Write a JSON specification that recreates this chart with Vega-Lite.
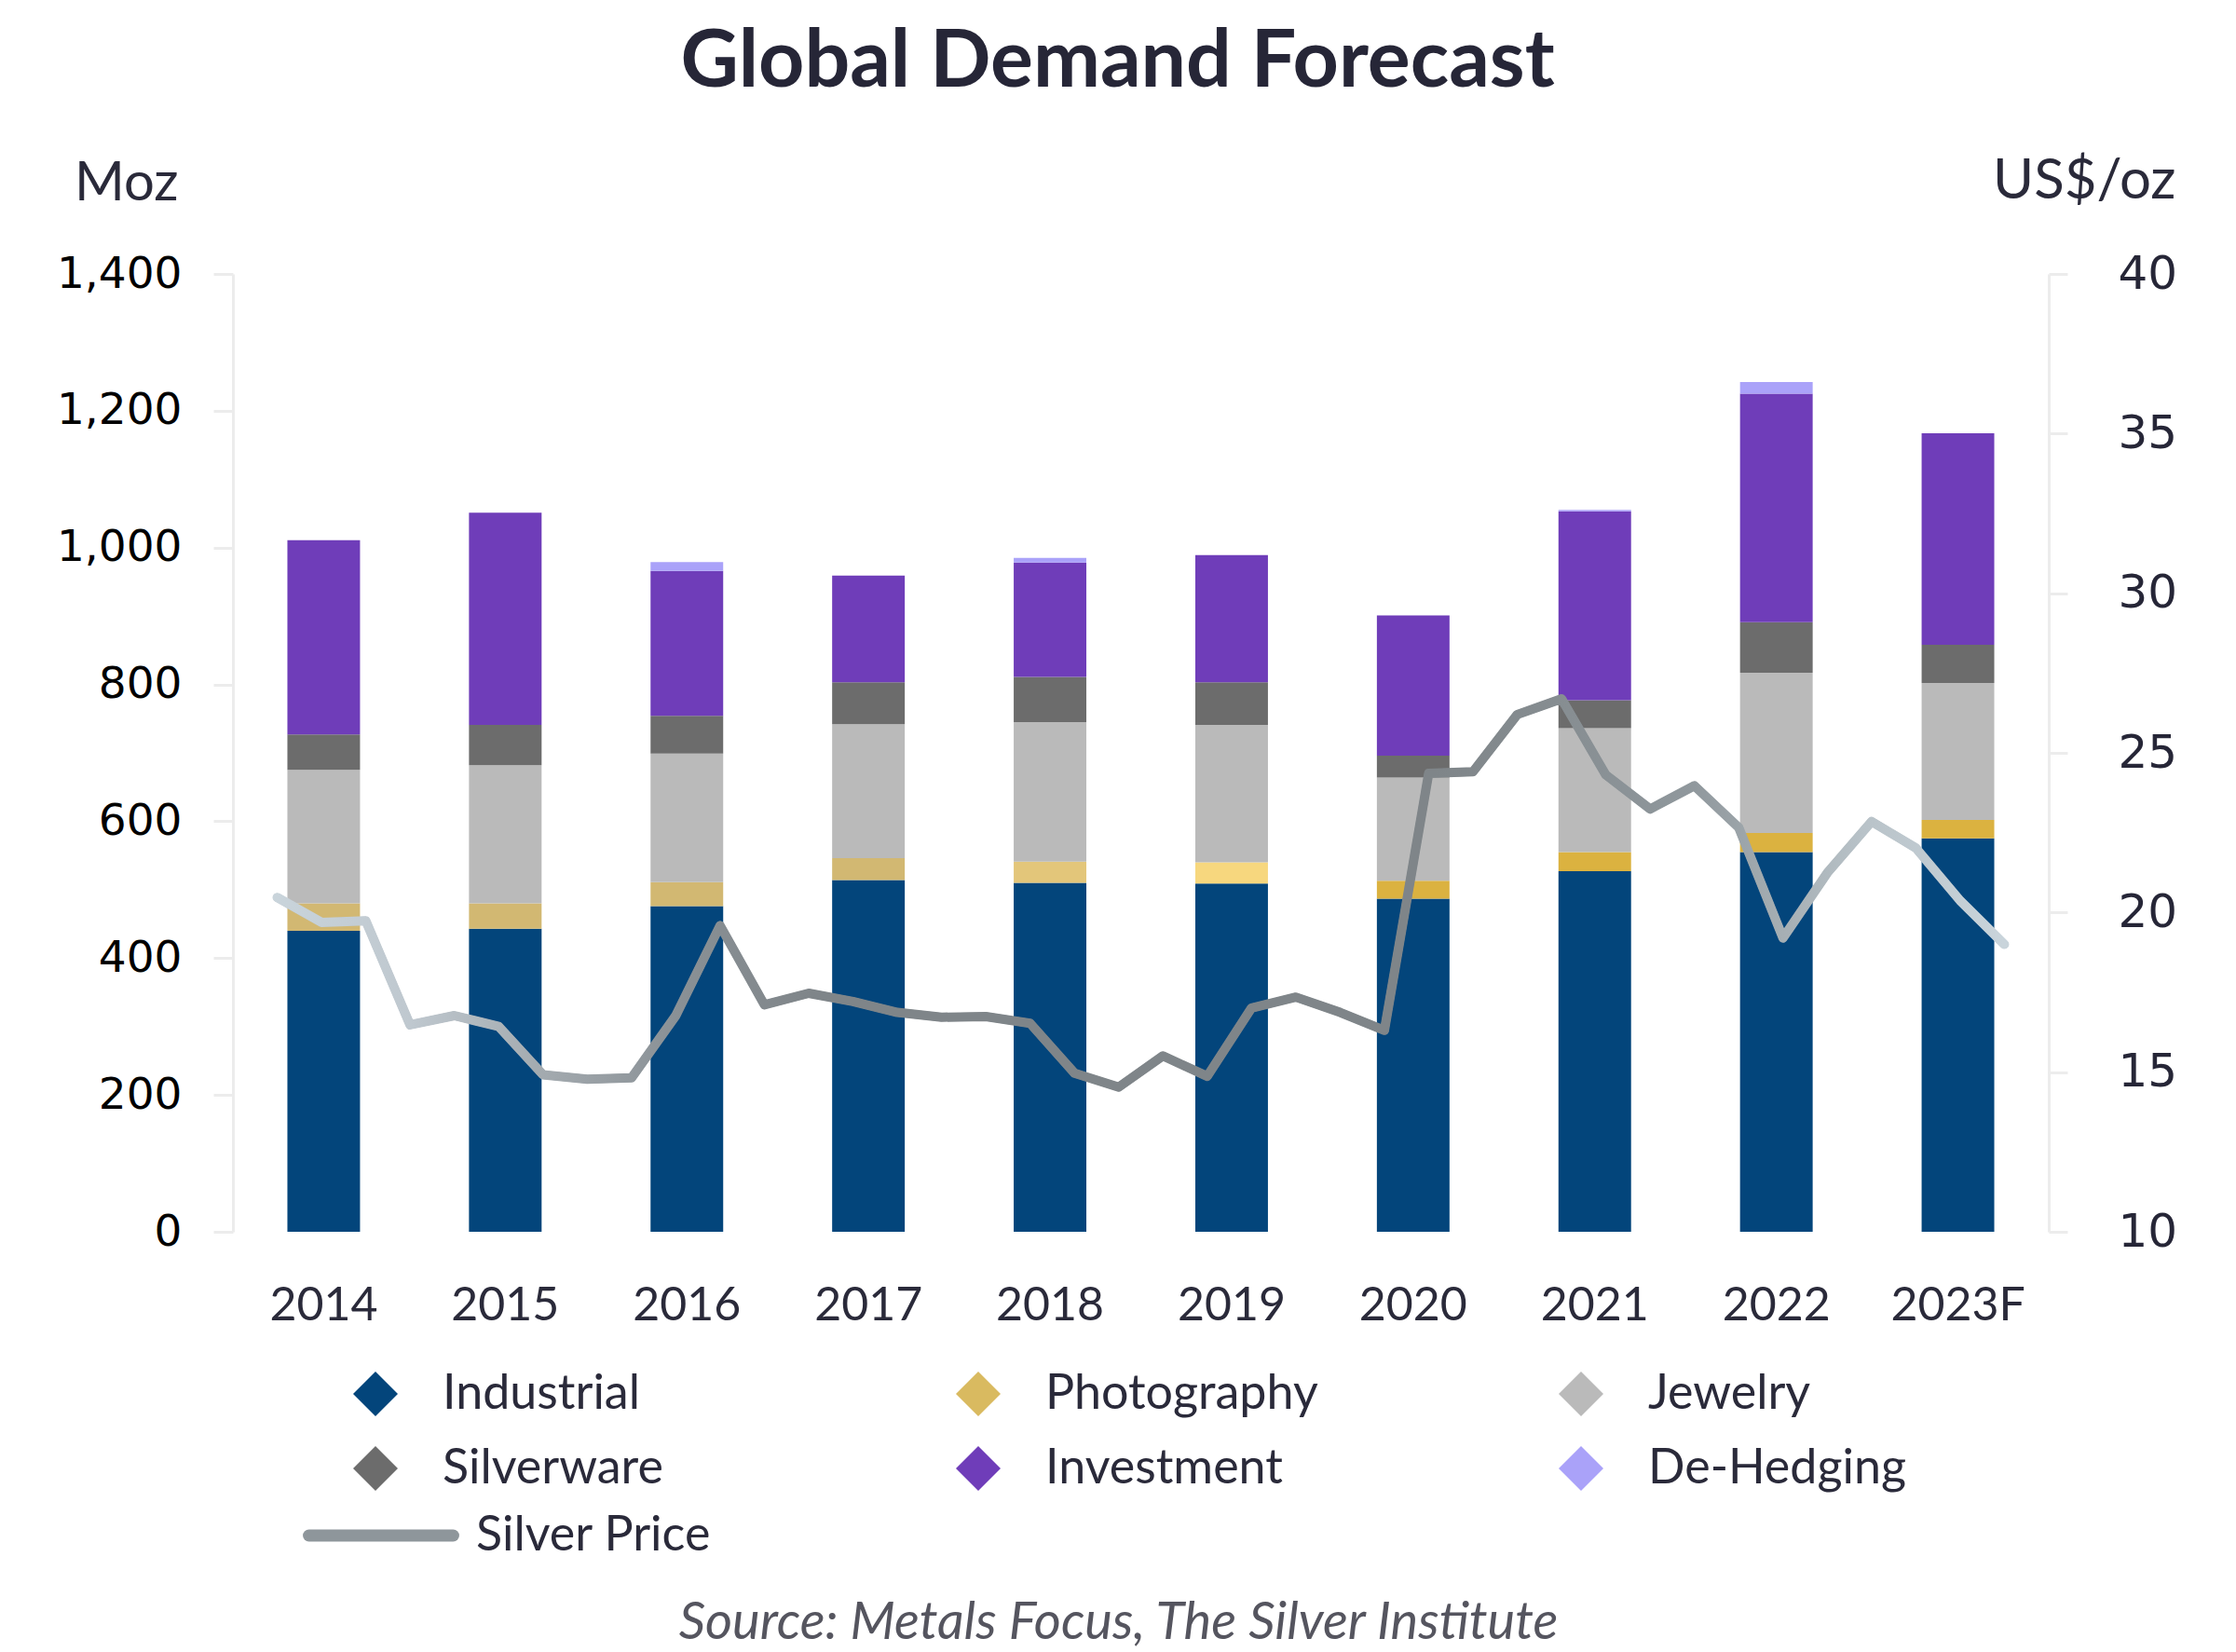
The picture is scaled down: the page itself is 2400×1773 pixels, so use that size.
{
  "$schema": "https://vega.github.io/schema/vega-lite/v6.json",
  "width": 1949,
  "height": 1028,
  "autosize": {"type": "none"},
  "padding": {"left": 250, "top": 294, "right": 201, "bottom": 451},
  "background": "white",
  "config": {"view": {"stroke": null}, "font": "Lato"},
  "title": {
    "text": "Global Demand Forecast",
    "anchor": "middle",
    "font": "Lato",
    "fontWeight": "bold",
    "fontSize": 86,
    "color": "#262637",
    "dx": -25,
    "offset": 53
  },
  "datasets": {
    "demand": [
      {"year": "2014", "category": "Industrial", "value": 440},
      {"year": "2014", "category": "Photography", "value": 40},
      {"year": "2014", "category": "Jewelry", "value": 195},
      {"year": "2014", "category": "Silverware", "value": 52},
      {"year": "2014", "category": "Investment", "value": 284},
      {"year": "2015", "category": "Industrial", "value": 443},
      {"year": "2015", "category": "Photography", "value": 37},
      {"year": "2015", "category": "Jewelry", "value": 202},
      {"year": "2015", "category": "Silverware", "value": 59},
      {"year": "2015", "category": "Investment", "value": 310},
      {"year": "2016", "category": "Industrial", "value": 476},
      {"year": "2016", "category": "Photography", "value": 35},
      {"year": "2016", "category": "Jewelry", "value": 188},
      {"year": "2016", "category": "Silverware", "value": 55},
      {"year": "2016", "category": "Investment", "value": 212},
      {"year": "2016", "category": "De-Hedging", "value": 13},
      {"year": "2017", "category": "Industrial", "value": 514},
      {"year": "2017", "category": "Photography", "value": 32},
      {"year": "2017", "category": "Jewelry", "value": 196},
      {"year": "2017", "category": "Silverware", "value": 61},
      {"year": "2017", "category": "Investment", "value": 156},
      {"year": "2018", "category": "Industrial", "value": 510},
      {"year": "2018", "category": "Photography", "value": 31},
      {"year": "2018", "category": "Jewelry", "value": 204},
      {"year": "2018", "category": "Silverware", "value": 66},
      {"year": "2018", "category": "Investment", "value": 167},
      {"year": "2018", "category": "De-Hedging", "value": 7},
      {"year": "2019", "category": "Industrial", "value": 509},
      {"year": "2019", "category": "Photography", "value": 31},
      {"year": "2019", "category": "Jewelry", "value": 201},
      {"year": "2019", "category": "Silverware", "value": 62},
      {"year": "2019", "category": "Investment", "value": 186},
      {"year": "2020", "category": "Industrial", "value": 487},
      {"year": "2020", "category": "Photography", "value": 26},
      {"year": "2020", "category": "Jewelry", "value": 151},
      {"year": "2020", "category": "Silverware", "value": 32},
      {"year": "2020", "category": "Investment", "value": 205},
      {"year": "2021", "category": "Industrial", "value": 527},
      {"year": "2021", "category": "Photography", "value": 28},
      {"year": "2021", "category": "Jewelry", "value": 181},
      {"year": "2021", "category": "Silverware", "value": 41},
      {"year": "2021", "category": "Investment", "value": 276},
      {"year": "2021", "category": "De-Hedging", "value": 2},
      {"year": "2022", "category": "Industrial", "value": 555},
      {"year": "2022", "category": "Photography", "value": 28},
      {"year": "2022", "category": "Jewelry", "value": 234},
      {"year": "2022", "category": "Silverware", "value": 74},
      {"year": "2022", "category": "Investment", "value": 334},
      {"year": "2022", "category": "De-Hedging", "value": 17},
      {"year": "2023F", "category": "Industrial", "value": 575},
      {"year": "2023F", "category": "Photography", "value": 27},
      {"year": "2023F", "category": "Jewelry", "value": 200},
      {"year": "2023F", "category": "Silverware", "value": 56},
      {"year": "2023F", "category": "Investment", "value": 309}
    ],
    "price": [
      {"period": "2014 Q1", "price": 20.47},
      {"period": "2014 Q2", "price": 19.69},
      {"period": "2014 Q3", "price": 19.74},
      {"period": "2014 Q4", "price": 16.48},
      {"period": "2015 Q1", "price": 16.77},
      {"period": "2015 Q2", "price": 16.43},
      {"period": "2015 Q3", "price": 14.92},
      {"period": "2015 Q4", "price": 14.78},
      {"period": "2016 Q1", "price": 14.82},
      {"period": "2016 Q2", "price": 16.77},
      {"period": "2016 Q3", "price": 19.59},
      {"period": "2016 Q4", "price": 17.11},
      {"period": "2017 Q1", "price": 17.47},
      {"period": "2017 Q2", "price": 17.21},
      {"period": "2017 Q3", "price": 16.87},
      {"period": "2017 Q4", "price": 16.72},
      {"period": "2018 Q1", "price": 16.74},
      {"period": "2018 Q2", "price": 16.53},
      {"period": "2018 Q3", "price": 14.97},
      {"period": "2018 Q4", "price": 14.53},
      {"period": "2019 Q1", "price": 15.51},
      {"period": "2019 Q2", "price": 14.87},
      {"period": "2019 Q3", "price": 17.01},
      {"period": "2019 Q4", "price": 17.35},
      {"period": "2020 Q1", "price": 16.87},
      {"period": "2020 Q2", "price": 16.31},
      {"period": "2020 Q3", "price": 24.36},
      {"period": "2020 Q4", "price": 24.41},
      {"period": "2021 Q1", "price": 26.2},
      {"period": "2021 Q2", "price": 26.69},
      {"period": "2021 Q3", "price": 24.31},
      {"period": "2021 Q4", "price": 23.24},
      {"period": "2022 Q1", "price": 23.97},
      {"period": "2022 Q2", "price": 22.66},
      {"period": "2022 Q3", "price": 19.2},
      {"period": "2022 Q4", "price": 21.24},
      {"period": "2023 Q1", "price": 22.85},
      {"period": "2023 Q2", "price": 22.02},
      {"period": "2023 Q3", "price": 20.37},
      {"period": "2023 Q4", "price": 19.0}
    ]
  },
  "layer": [
    {
      "data": {"name": "demand"},
      "transform": [
        {"calculate": "indexof(['Industrial', 'Photography', 'Jewelry', 'Silverware', 'Investment', 'De-Hedging'], datum.category)", "as": "stackOrder"}
      ],
      "mark": {"type": "bar"},
      "encoding": {
        "x": {
          "field": "year",
          "type": "nominal",
          "sort": null,
          "scale": {"paddingInner": 0.6, "paddingOuter": 0.3},
          "axis": {
            "title": "Source: Metals Focus, The Silver Institute",
            "titleFont": "Lato",
            "titleFontStyle": "italic",
            "titleFontWeight": "normal",
            "titleFontSize": 56,
            "titleColor": "#55555f",
            "titleX": 950,
            "titleY": 436,
            "titleAlign": "center",
            "titleBaseline": "alphabetic",
            "labelAngle": 0,
            "labelFont": "Lato",
            "labelFontSize": 50,
            "labelColor": "#2a2a3a",
            "labelPadding": 54,
            "domain": false,
            "ticks": false
          }
        },
        "y": {
          "field": "value",
          "type": "quantitative",
          "stack": "zero",
          "scale": {"domain": [0, 1400], "nice": false},
          "axis": {
            "orient": "left",
            "values": [0, 200, 400, 600, 800, 1000, 1200, 1400],
            "format": ",d",
            "grid": false,
            "title": "Moz",
            "titleAngle": 0,
            "titleAlign": "right",
            "titleBaseline": "alphabetic",
            "titleX": -59,
            "titleY": -80,
            "titleFont": "Lato",
            "titleFontSize": 58,
            "titleFontWeight": "normal",
            "titleColor": "#2a2a3a",
            "labelFont": "DejaVu Sans",
            "labelFontSize": 47,
            "labelColor": "#000000",
            "labelPadding": 34,
            "tickSize": 21,
            "tickWidth": 3,
            "tickColor": "#ececec",
            "domainColor": "#ececec",
            "domainWidth": 3
          }
        },
        "order": {"field": "stackOrder", "type": "quantitative", "sort": "ascending"},
        "color": {
          "field": "category",
          "type": "nominal",
          "scale": {
            "domain": ["Industrial", "Silverware", "Photography", "Investment", "Jewelry", "De-Hedging"],
            "range": ["#03457b", "#6c6c6c", "#d9ba60", "#6f3db9", "#bababa", "#aaa2f9"]
          },
          "condition": [
            {"test": "datum.category === 'Photography' && (datum.year === '2014' || datum.year === '2015' || datum.year === '2016' || datum.year === '2017')", "value": "#d2b872"},
            {"test": "datum.category === 'Photography' && datum.year === '2018'", "value": "#e3c67a"},
            {"test": "datum.category === 'Photography' && datum.year === '2019'", "value": "#f7d77e"},
            {"test": "datum.category === 'Photography' && (datum.year === '2020' || datum.year === '2021' || datum.year === '2022' || datum.year === '2023F')", "value": "#dbb240"}
          ],
          "legend": {
            "orient": "none",
            "legendX": 127,
            "legendY": 1176,
            "columns": 3,
            "title": null,
            "symbolType": "diamond",
            "symbolSize": 2304,
            "symbolStrokeWidth": 0,
            "labelFont": "Lato",
            "labelFontSize": 52,
            "labelColor": "#2a2a3a",
            "labelOffset": 46,
            "labelLimit": 600,
            "columnPadding": 256,
            "rowPadding": 28,
            "gridAlign": "all",
            "padding": 0
          }
        }
      }
    },
    {
      "data": {"name": "price"},
      "encoding": {
        "x": {
          "field": "period",
          "type": "ordinal",
          "sort": null,
          "scale": {"type": "point", "padding": 2.1667},
          "axis": null
        },
        "y": {
          "field": "price",
          "type": "quantitative",
          "scale": {"domain": [10, 40], "zero": false, "nice": false},
          "axis": {
            "orient": "right",
            "values": [10, 15, 20, 25, 30, 35, 40],
            "grid": false,
            "title": "US$/oz",
            "titleAngle": 0,
            "titleAlign": "right",
            "titleBaseline": "alphabetic",
            "titleX": 136,
            "titleY": -82,
            "titleFont": "Lato",
            "titleFontSize": 60,
            "titleFontWeight": "normal",
            "titleColor": "#2a2a3a",
            "labelFont": "DejaVu Sans",
            "labelFontSize": 50,
            "labelColor": "#262637",
            "labelPadding": 54,
            "tickSize": 20,
            "tickWidth": 3,
            "tickColor": "#ececec",
            "domainColor": "#ececec",
            "domainWidth": 3
          }
        }
      },
      "layer": [
        {
          "mark": {"type": "line", "strokeWidth": 9, "strokeCap": "round", "strokeJoin": "round"},
          "encoding": {
            "stroke": {
              "datum": "Silver Price",
              "scale": {"range": ["#8e969b"]},
              "legend": {
                "orient": "none",
                "legendX": 75,
                "legendY": 1270,
                "title": null,
                "symbolType": "stroke",
                "symbolSize": 24000,
                "symbolStrokeWidth": 13,
                "labelFont": "Lato",
                "labelFontSize": 52,
                "labelColor": "#2a2a3a",
                "labelOffset": 18,
                "labelLimit": 600,
                "padding": 0,
                "encode": {"symbols": {"update": {"strokeCap": {"value": "round"}}}}
              }
            }
          }
        },
        {
          "mark": {
            "type": "line",
            "strokeWidth": 10,
            "strokeCap": "round",
            "strokeJoin": "round",
            "stroke": {
              "gradient": "linear",
              "x1": 0, "y1": 0, "x2": 1, "y2": 0,
              "stops": [
                {"offset": 0, "color": "#c9d4db"},
                {"offset": 0.077, "color": "#bfc8cf"},
                {"offset": 0.154, "color": "#a3aaaf"},
                {"offset": 0.23, "color": "#8a9196"},
                {"offset": 0.31, "color": "#7f8589"},
                {"offset": 0.67, "color": "#7f8589"},
                {"offset": 0.74, "color": "#868d91"},
                {"offset": 0.82, "color": "#90989d"},
                {"offset": 0.87, "color": "#a5aeb3"},
                {"offset": 0.92, "color": "#b9c3c9"},
                {"offset": 1, "color": "#c9d4db"}
              ]
            }
          },
          "encoding": {}
        }
      ]
    }
  ],
  "resolve": {"scale": {"x": "independent", "y": "independent"}}
}
